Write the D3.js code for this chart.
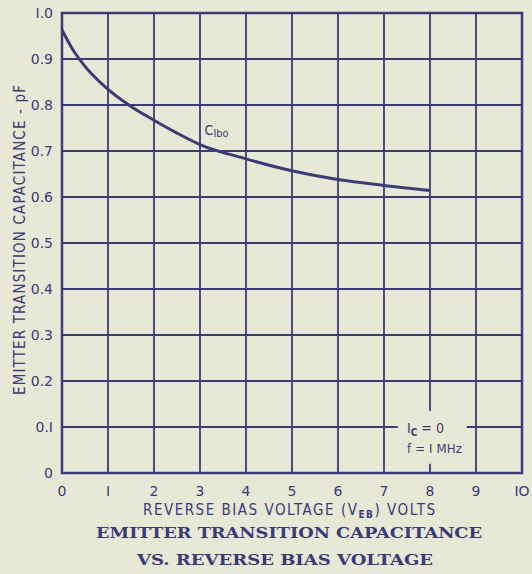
<!DOCTYPE html>
<html>
<head>
<script src="https://d3js.org/d3.v7.min.js"></script>
<style>
  body { margin: 0; background: #e8e8d6; }
  svg { display: block; }
</style>
</head>
<body>
<div id="chart"></div>
<script>
// curve
var voltage = [0, 0.25, 0.5, 0.75, 1, 1.5, 2, 2.5, 3, 4, 5, 6, 7, 8];
var capacitance = [0.963, 0.918, 0.884, 0.857, 0.834, 0.797, 0.767, 0.739, 0.714, 0.683, 0.657, 0.638, 0.625, 0.614];
var xTicks = [0, 1, 2, 3, 4, 5, 6, 7, 8, 9, 10];
var xTickLabels = ["0", "I", "2", "3", "4", "5", "6", "7", "8", "9", "IO"];
var yTicks = [0, 0.1, 0.2, 0.3, 0.4, 0.5, 0.6, 0.7, 0.8, 0.9, 1.0];
var yTickLabels = ["0", "0.I", "0.2", "0.3", "0.4", "0.5", "0.6", "0.7", "0.8", "0.9", "I.0"];

var W = 532, H = 574;
var margin = { top: 13, left: 62, right: 10, bottom: 101 };
var width = W - margin.left - margin.right, height = H - margin.top - margin.bottom;
var ink = "#3b3b78";
var paper = "#e8e8d6";

var svg = d3.select("#chart").append("svg").attr("width", W).attr("height", H);
svg.append("rect").attr("width", W).attr("height", H).attr("fill", paper);
var g = svg.append("g").attr("transform", `translate(${margin.left},${margin.top})`);

var x = d3.scaleLinear().domain([0, 10]).range([0, width]);
var y = d3.scaleLinear().domain([0, 1]).range([height, 0]);

// grid
g.append("g").selectAll("line").data(xTicks).enter().append("line")
  .attr("x1", d => x(d)).attr("x2", d => x(d))
  .attr("y1", 0).attr("y2", height)
  .attr("stroke", ink).attr("stroke-width", 1.8);
g.append("g").selectAll("line").data(yTicks).enter().append("line")
  .attr("x1", 0).attr("x2", width)
  .attr("y1", d => y(d)).attr("y2", d => y(d))
  .attr("stroke", ink).attr("stroke-width", 1.8);
g.append("rect").attr("width", width).attr("height", height)
  .attr("fill", "none").attr("stroke", ink).attr("stroke-width", 2.5);

// note box hides the grid behind it
g.append("rect")
  .attr("x", x(7.3)).attr("y", y(0.135))
  .attr("width", x(8.8) - x(7.3)).attr("height", y(0.02) - y(0.135))
  .attr("fill", paper);

// tick labels
var sans = "'DejaVu Sans', 'Liberation Sans', sans-serif";
var narrow = "'DejaVu Sans Condensed', 'DejaVu Sans', sans-serif";
g.append("g").selectAll("text").data(xTicks).enter().append("text")
  .attr("x", d => x(d)).attr("y", height + 23)
  .attr("text-anchor", "middle").attr("font-family", sans).attr("font-size", 14)
  .attr("fill", ink).text((d, i) => xTickLabels[i]);
g.append("g").selectAll("text").data(yTicks).enter().append("text")
  .attr("x", -9).attr("y", d => y(d) + 5)
  .attr("text-anchor", "end").attr("font-family", sans).attr("font-size", 14)
  .attr("fill", ink).text((d, i) => yTickLabels[i]);

// axis titles
var xl = svg.append("text").attr("x", 143).attr("y", 515)
  .attr("font-family", narrow).attr("font-size", 15)
  .attr("fill", ink);
xl.append("tspan").text("REVERSE BIAS VOLTAGE (V");
xl.append("tspan").attr("font-size", 10).attr("font-weight", "bold").attr("dy", 3).text("EB");
xl.append("tspan").attr("dy", -3).text(") VOLTS");
xl.attr("textLength", 292).attr("lengthAdjust", "spacing");

svg.append("text")
  .attr("transform", "translate(25,240) rotate(-90)")
  .attr("text-anchor", "middle").attr("font-family", narrow).attr("font-size", 15)
  .attr("textLength", 310).attr("lengthAdjust", "spacing")
  .attr("fill", ink)
  .text("EMITTER TRANSITION CAPACITANCE - pF");

// curve
var line = d3.line().x(d => x(d[0])).y(d => y(d[1])).curve(d3.curveMonotoneX);
g.append("path").datum(voltage.map((v, i) => [v, capacitance[i]]))
  .attr("d", line).attr("fill", "none").attr("stroke", ink).attr("stroke-width", 3);

var cl = g.append("text").attr("x", x(3.1)).attr("y", y(0.735))
  .attr("font-family", narrow).attr("font-size", 14).attr("fill", ink);
cl.append("tspan").text("C");
cl.append("tspan").attr("font-size", 11).attr("dy", 2).text("Ibo");

// note
var n1 = svg.append("text").attr("x", 407).attr("y", 433)
  .attr("font-family", narrow).attr("font-size", 14).attr("fill", ink);
n1.append("tspan").text("I");
n1.append("tspan").attr("font-size", 10).attr("font-weight", "bold").attr("dy", 3).text("C");
n1.append("tspan").attr("dy", -3).text(" = 0");
svg.append("text").attr("x", 407).attr("y", 453)
  .attr("font-family", narrow).attr("font-size", 13).attr("fill", ink)
  .attr("textLength", 55).attr("lengthAdjust", "spacing")
  .text("f = I MHz");

// title
var serif = "'DejaVu Serif', 'Liberation Serif', serif";
svg.append("text").attr("x", 96).attr("y", 538)
  .attr("font-family", serif).attr("font-weight", "bold")
  .attr("font-size", 15).attr("fill", ink)
  .attr("textLength", 386).attr("lengthAdjust", "spacingAndGlyphs")
  .text("EMITTER TRANSITION CAPACITANCE");
svg.append("text").attr("x", 137).attr("y", 565)
  .attr("font-family", serif).attr("font-weight", "bold")
  .attr("font-size", 15).attr("fill", ink)
  .attr("textLength", 296).attr("lengthAdjust", "spacingAndGlyphs")
  .text("VS. REVERSE BIAS VOLTAGE");
</script>
</body>
</html>
